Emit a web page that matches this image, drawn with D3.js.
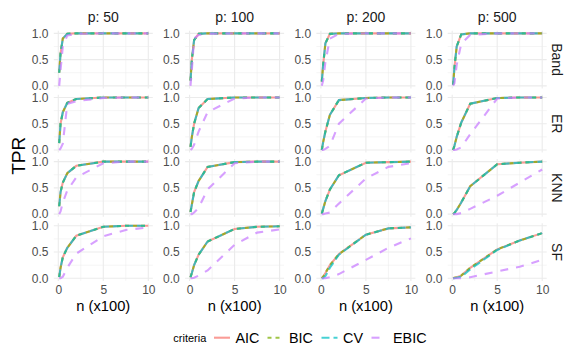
<!DOCTYPE html>
<html><head><meta charset="utf-8">
<script src="https://cdn.jsdelivr.net/npm/d3@7"></script>
<style>html,body{margin:0;padding:0;background:#fff}</style>
</head><body>
<svg id="chart" width="581" height="363"></svg>
<script>
// ---------------- data ----------------
const nValues = [0.1, 0.25, 0.5, 1, 2, 5, 7.5, 10];   // n (x100)
const pLevels = ["50", "100", "200", "500"];
const graphTypes = ["Band", "ER", "KNN", "SF"];
const criteria = ["AIC", "BIC", "CV", "EBIC"];
const xTicks = [0, 5, 10];
const yTicks = [0, 0.5, 1];

// each array: rows = p 50, 100, 200, 500 ; values at nValues
const AIC_Band = [[0.25,0.62,0.9,0.99,1,1,1,1],[0.1,0.5,0.87,0.99,1,1,1,1],[0.08,0.4,0.81,0.99,1,1,1,1],[0.02,0.35,0.75,0.98,1,1,1,1]];
const BIC_Band = [[0.25,0.62,0.9,0.99,1,1,1,1],[0.1,0.5,0.87,0.99,1,1,1,1],[0.08,0.4,0.81,0.99,1,1,1,1],[0.02,0.35,0.75,0.98,1,1,1,1]];
const CV_Band  = [[0.25,0.62,0.9,0.99,1,1,1,1],[0.1,0.5,0.87,0.99,1,1,1,1],[0.08,0.4,0.81,0.99,1,1,1,1],[0.02,0.35,0.75,0.98,1,1,1,1]];
const EBIC_Band= [[0.0,0.3,0.75,0.96,0.99,1,1,1],[0.0,0.3,0.9,0.97,0.99,1,1,1],[0.0,0.1,0.45,0.9,0.99,1,1,1],[0.0,0.05,0.4,0.8,0.97,1,1,1]];

const AIC_ER = [[0.13,0.5,0.72,0.9,0.97,1,1,1],[0.06,0.25,0.5,0.8,0.97,1,1,1],[0.0,0.15,0.35,0.67,0.95,0.99,1,1],[0.0,0.08,0.25,0.52,0.88,0.99,1,1]];
const BIC_ER = [[0.13,0.5,0.72,0.9,0.97,1,1,1],[0.06,0.25,0.5,0.8,0.97,1,1,1],[0.0,0.15,0.35,0.67,0.95,0.99,1,1],[0.0,0.08,0.25,0.52,0.88,0.99,1,1]];
const CV_ER  = [[0.13,0.5,0.72,0.9,0.97,1,1,1],[0.06,0.25,0.5,0.8,0.97,1,1,1],[0.0,0.15,0.35,0.67,0.95,0.99,1,1],[0.0,0.08,0.25,0.52,0.88,0.99,1,1]];
const EBIC_ER= [[0.0,0.03,0.12,0.88,0.93,0.99,1,1],[0.0,0.02,0.1,0.35,0.72,0.98,1,1],[0,0,0.02,0.08,0.5,0.98,1,1],[0,0,0.01,0.05,0.3,0.98,1,1]];

const AIC_KNN = [[0.15,0.42,0.6,0.78,0.92,1,1,1],[0.04,0.18,0.42,0.63,0.9,0.99,1,1],[0.01,0.1,0.25,0.47,0.74,0.98,0.99,1],[0.0,0.02,0.08,0.22,0.53,0.95,0.98,1]];
const BIC_KNN = [[0.15,0.42,0.6,0.78,0.92,1,1,1],[0.04,0.18,0.42,0.63,0.9,0.99,1,1],[0.01,0.1,0.25,0.47,0.74,0.98,0.99,1],[0.0,0.02,0.08,0.22,0.53,0.95,0.98,1]];
const CV_KNN  = [[0.15,0.42,0.6,0.78,0.92,1,1,1],[0.04,0.18,0.42,0.63,0.9,0.99,1,1],[0.01,0.1,0.25,0.47,0.74,0.98,0.99,1],[0.0,0.02,0.08,0.22,0.53,0.95,0.98,1]];
const EBIC_KNN= [[0.0,0.05,0.22,0.45,0.7,0.97,1,1],[0,0,0.03,0.12,0.47,0.97,1,1],[0,0,0.01,0.03,0.2,0.68,0.9,0.97],[0,0,0,0.02,0.1,0.35,0.6,0.85]];

const AIC_SF = [[0.02,0.2,0.4,0.58,0.81,0.98,1,1],[0.02,0.1,0.25,0.45,0.7,0.94,0.98,0.99],[0.0,0.03,0.1,0.25,0.46,0.83,0.95,0.97],[0.0,0.01,0.02,0.05,0.2,0.55,0.72,0.86]];
const BIC_SF = [[0.02,0.2,0.4,0.58,0.81,0.98,1,1],[0.02,0.1,0.25,0.45,0.7,0.94,0.98,0.99],[0.0,0.03,0.1,0.25,0.46,0.83,0.95,0.97],[0.0,0.01,0.02,0.05,0.2,0.55,0.72,0.86]];
const CV_SF  = [[0.02,0.2,0.4,0.58,0.81,0.98,1,1],[0.02,0.1,0.25,0.45,0.7,0.94,0.98,0.99],[0.0,0.0,0.04,0.2,0.45,0.83,0.95,0.97],[0.0,0.0,0.01,0.03,0.17,0.54,0.72,0.86]];
const EBIC_SF= [[0,0,0.03,0.2,0.47,0.8,0.92,0.97],[0,0,0.01,0.05,0.15,0.64,0.87,0.93],[0,0,0,0.02,0.08,0.35,0.58,0.76],[0,0,0,0,0.02,0.13,0.22,0.35]];

const tables = {
  AIC:  {Band: AIC_Band,  ER: AIC_ER,  KNN: AIC_KNN,  SF: AIC_SF},
  BIC:  {Band: BIC_Band,  ER: BIC_ER,  KNN: BIC_KNN,  SF: BIC_SF},
  CV:   {Band: CV_Band,   ER: CV_ER,   KNN: CV_KNN,   SF: CV_SF},
  EBIC: {Band: EBIC_Band, ER: EBIC_ER, KNN: EBIC_KNN, SF: EBIC_SF}
};

// ---------------- styles ----------------
const colors = {AIC: "#F8766D", BIC: "#7CAE00", CV: "#00BFC4", EBIC: "#C77CFF"};
const dashes = {AIC: null, BIC: "4,4", CV: "8,4", EBIC: "8,8"};
const FONT = "'Liberation Sans', Arial, Helvetica, sans-serif";

const svg = d3.select("#chart");
svg.append("rect").attr("width", 581).attr("height", 363).attr("fill", "#fff");

const panelW = 99, panelH = 57.75;
const colLeft = c => 53.8 + c * 131.3;
const rowTop = r => 30.7 + r * 64.15;

const x = d3.scaleLinear().domain([-0.5, 10.5]).range([0, panelW]);
const y = d3.scaleLinear().domain([-0.05, 1.05]).range([panelH, 0]);
const line = d3.line().x(d => x(d[0])).y(d => y(d[1]));

graphTypes.forEach((g, r) => {
  pLevels.forEach((p, c) => {
    const gp = svg.append("g").attr("transform", `translate(${colLeft(c)},${rowTop(r)})`);
    // minor grid
    [2.5, 7.5].forEach(v => gp.append("line").attr("x1", x(v)).attr("x2", x(v)).attr("y1", 0).attr("y2", panelH)
      .attr("stroke", "#ebebeb").attr("stroke-width", 0.55));
    [0.25, 0.75].forEach(v => gp.append("line").attr("y1", y(v)).attr("y2", y(v)).attr("x1", 0).attr("x2", panelW)
      .attr("stroke", "#ebebeb").attr("stroke-width", 0.55));
    // major grid
    xTicks.forEach(v => gp.append("line").attr("x1", x(v)).attr("x2", x(v)).attr("y1", 0).attr("y2", panelH)
      .attr("stroke", "#ebebeb").attr("stroke-width", 1.1));
    yTicks.forEach(v => gp.append("line").attr("y1", y(v)).attr("y2", y(v)).attr("x1", 0).attr("x2", panelW)
      .attr("stroke", "#ebebeb").attr("stroke-width", 1.1));
    // y axis labels
    const ya = gp.append("g").call(d3.axisLeft(y).tickValues(yTicks).tickFormat(d3.format(".1f")).tickSize(0).tickPadding(5.3));
    ya.select(".domain").remove();
    ya.selectAll("text").attr("font-family", FONT).attr("font-size", 12).attr("fill", "#4d4d4d");
    // x axis labels only bottom row
    if (r === graphTypes.length - 1) {
      const xa = gp.append("g").attr("transform", `translate(0,${panelH})`)
        .call(d3.axisBottom(x).tickValues(xTicks).tickFormat(d3.format("d")).tickSize(0).tickPadding(5));
      xa.select(".domain").remove();
      xa.selectAll("text").attr("font-family", FONT).attr("font-size", 12).attr("fill", "#4d4d4d");
      gp.append("text").attr("x", panelW / 2).attr("y", panelH + 30.5).attr("text-anchor", "middle")
        .attr("font-family", FONT).attr("font-size", 14.7).attr("fill", "#000").text("n (x100)");
    }
    // series
    criteria.forEach(k => {
      const vals = tables[k][g][c];
      const pts = nValues.map((n, i) => [n, vals[i]]);
      gp.append("path").attr("d", line(pts)).attr("fill", "none")
        .attr("stroke", colors[k]).attr("stroke-opacity", 0.72).attr("stroke-width", 2.1)
        .attr("stroke-dasharray", dashes[k]);
    });
    // top strips
    if (r === 0) {
      svg.append("text").attr("x", colLeft(c) + panelW / 2).attr("y", 17).attr("dy", "0.35em")
        .attr("text-anchor", "middle").attr("font-family", FONT).attr("font-size", 14)
        .attr("fill", "#1a1a1a").text("p: " + p);
    }
  });
  // right strips
  const cy = rowTop(r) + panelH / 2;
  svg.append("text").attr("transform", `translate(556.5,${cy}) rotate(90)`).attr("dy", "0.35em")
    .attr("text-anchor", "middle").attr("font-family", FONT).attr("font-size", 14)
    .attr("fill", "#1a1a1a").text(g);
});

// y title
svg.append("text").attr("transform", `translate(18.5,${rowTop(0) + (rowTop(3) + panelH - rowTop(0)) / 2}) rotate(-90)`)
  .attr("dy", "0.35em").attr("text-anchor", "middle").attr("font-family", FONT).attr("font-size", 19)
  .attr("fill", "#000").text("TPR");

// legend
const ly = 337.7;
svg.append("text").attr("x", 173.3).attr("y", ly).attr("dy", "0.35em").attr("font-family", FONT)
  .attr("font-size", 11).attr("fill", "#000").text("criteria");
const textStarts = [235.5, 289, 343, 393];
criteria.forEach((k, i) => {
  const ks = textStarts[i] - 21.5;
  svg.append("line").attr("x1", ks).attr("x2", ks + 16).attr("y1", ly).attr("y2", ly)
    .attr("stroke", colors[k]).attr("stroke-opacity", 0.72).attr("stroke-width", 2.1)
    .attr("stroke-dasharray", dashes[k]);
  svg.append("text").attr("x", textStarts[i]).attr("y", ly).attr("dy", "0.35em").attr("font-family", FONT)
    .attr("font-size", 14.4).attr("fill", "#000").text(k);
});
</script>
</body></html>
